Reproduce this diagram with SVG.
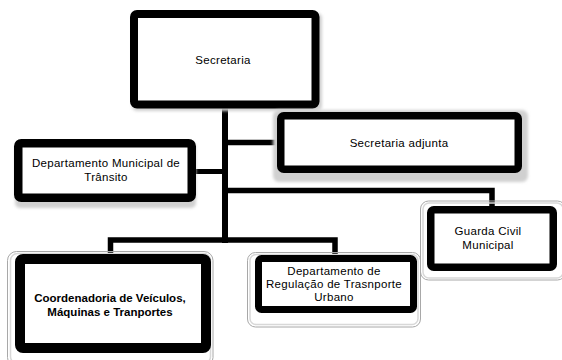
<svg xmlns="http://www.w3.org/2000/svg" width="562" height="360" viewBox="0 0 562 360">
<defs>
<style>
.box{fill:#fff;stroke:#000;stroke-linejoin:round}
.shadow{fill:#d0d0d0;stroke:none}
.glow{fill:none;stroke:#a8a8a8;stroke-width:1}
.glow2{fill:none;stroke:#d8d8d8;stroke-width:1.5}
.t{font-family:"Liberation Sans",Arial,sans-serif;font-size:11.5px;letter-spacing:0.3px;fill:#000;text-anchor:middle}
.b{font-weight:bold;letter-spacing:0}
.c{fill:none;stroke:#000;stroke-linejoin:miter;stroke-linecap:butt}
</style>
<filter id="blur" x="-20%" y="-20%" width="140%" height="140%"><feGaussianBlur stdDeviation="1.5"/></filter>
</defs>
<rect width="562" height="360" fill="#fff"/>
<g id="connectors">
<path class="c" stroke-width="6" d="M225,106 V243"/>
<path class="c" stroke-width="5.5" d="M225,142.5 H279"/>
<path class="c" stroke-width="5" d="M194,171.5 H225"/>
<path class="c" stroke-width="5.5" d="M225,190.5 H492 V208"/>
<path class="c" stroke-width="5.5" d="M110.5,256 V240 H335 V257"/>
</g>
<g id="secretaria">
<rect class="shadow" x="132" y="13" width="190" height="98" rx="5" filter="url(#blur)"/>
<rect class="box" x="134" y="14" width="181.5" height="90.5" rx="3" stroke-width="8"/>
<text class="t" x="223" y="64">Secretaria</text>
</g>
<g id="secretaria-adjunta">
<rect class="shadow" x="273" y="110" width="255" height="72" rx="6" filter="url(#blur)"/>
<rect class="box" x="280.75" y="115.75" width="237.5" height="53.5" rx="3" stroke-width="7.5"/>
<text class="t" x="399" y="147">Secretaria adjunta</text>
</g>
<g id="dept-municipal-transito">
<rect class="shadow" x="15" y="142" width="181" height="66" rx="5" filter="url(#blur)"/>
<rect class="box" x="18.25" y="143.25" width="173.5" height="54.5" rx="3" stroke-width="8.5"/>
<text class="t" x="106" y="167.3">Departamento Municipal de</text>
<text class="t" x="106" y="180.7">Trânsito</text>
</g>
<g id="coordenadoria">
<rect class="glow" x="7.5" y="251.5" width="205.5" height="115" rx="9"/>
<rect class="glow2" x="10.5" y="253.5" width="200" height="110" rx="7"/>
<rect class="box" x="20" y="259" width="186" height="89" rx="3" stroke-width="10"/>
<text class="t b" x="110" y="302.4">Coordenadoria de Veículos,</text>
<text class="t b" x="110" y="315.6">Máquinas e Tranportes</text>
</g>
<g id="dept-regulacao">
<rect class="glow" x="247.5" y="252.5" width="173" height="74.5" rx="8"/>
<rect class="glow2" x="250" y="254.5" width="168" height="70" rx="6"/>
<rect class="box" x="258.5" y="258.5" width="155" height="51" rx="3" stroke-width="7"/>
<text class="t" x="334" y="275">Departamento de</text>
<text class="t" x="334" y="288.2">Regulação de Trasnporte</text>
<text class="t" x="334" y="301.4">Urbano</text>
</g>
<g id="guarda-civil">
<rect class="glow" x="420.5" y="201" width="145" height="79" rx="8"/>
<rect class="glow2" x="423" y="203" width="140" height="75" rx="6"/>
<rect class="box" x="430.75" y="209.75" width="122.5" height="57.5" rx="3" stroke-width="7.5"/>
<text class="t" x="488" y="235.4">Guarda Civil</text>
<text class="t" x="488" y="248.6">Municipal</text>
</g>
</svg>
